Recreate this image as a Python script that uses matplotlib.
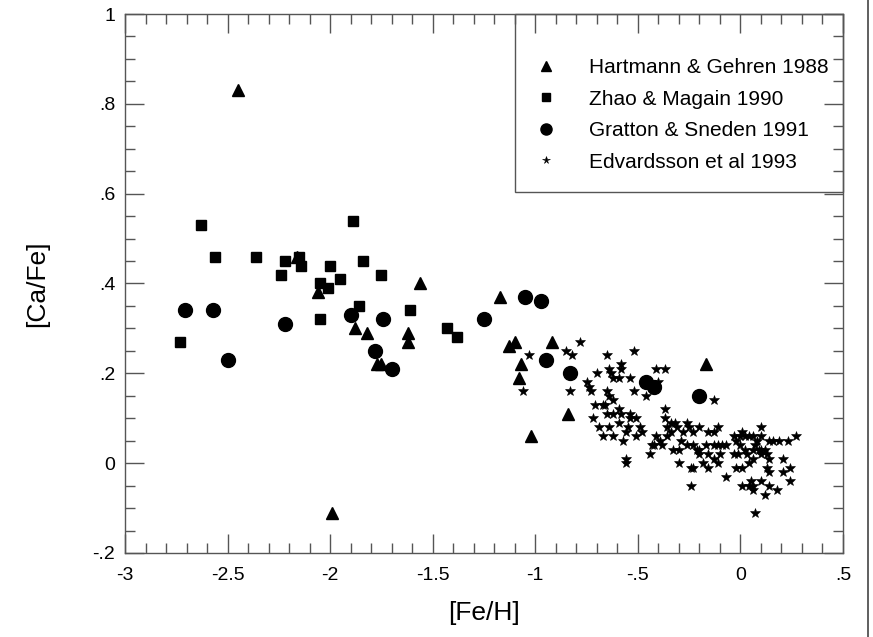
import numpy as np
import matplotlib
matplotlib.use("Agg")
import matplotlib.pyplot as plt
from matplotlib.ticker import MultipleLocator, FuncFormatter
from matplotlib.patches import Rectangle
from matplotlib.lines import Line2D

plt.rcParams["font.family"] = ["Liberation Sans", "DejaVu Sans"]

# Hartmann & Gehren 1988
hg_feh = [-2.45, -1.99, -2.16, -2.06, -1.88, -1.82, -1.77, -1.75, -1.56, -1.62, -1.62,
          -1.17, -1.13, -1.10, -0.92, -1.07, -1.08, -1.02, -0.84, -0.17]
hg_cafe = [0.83, -0.11, 0.46, 0.38, 0.30, 0.29, 0.22, 0.22, 0.40, 0.29, 0.27,
           0.37, 0.26, 0.27, 0.27, 0.22, 0.19, 0.06, 0.11, 0.22]

# Zhao & Magain 1990
zm_feh = [-2.73, -2.63, -2.56, -2.36, -2.22, -2.24, -2.15, -2.14, -2.00, -2.05, -2.01,
          -1.95, -1.89, -1.84, -1.75, -1.86, -2.05, -1.61, -1.43, -1.38]
zm_cafe = [0.27, 0.53, 0.46, 0.46, 0.45, 0.42, 0.46, 0.44, 0.44, 0.40, 0.39,
           0.41, 0.54, 0.45, 0.42, 0.35, 0.32, 0.34, 0.30, 0.28]

# Gratton & Sneden 1991
gs_feh = [-2.71, -2.57, -2.50, -2.22, -1.90, -1.74, -1.78, -1.70, -1.25, -1.05, -0.97,
          -0.95, -0.83, -0.46, -0.42, -0.20]
gs_cafe = [0.34, 0.34, 0.23, 0.31, 0.33, 0.32, 0.25, 0.21, 0.32, 0.37, 0.36,
           0.23, 0.20, 0.18, 0.17, 0.15]

# Edvardsson et al 1993
ed_feh = [-1.03, -1.06, -0.78, -0.85, -0.82, -0.65, -0.52, -0.70, -0.64, -0.63, -0.58,
          -0.58, -0.62, -0.59, -0.54, -0.41, -0.37, -0.75, -0.74, -0.73, -0.83, -0.65,
          -0.64, -0.52, -0.46, -0.40, -0.71, -0.67, -0.66, -0.62, -0.65, -0.62, -0.59,
          -0.58, -0.54, -0.72, -0.59, -0.54, -0.51, -0.37, -0.37, -0.69, -0.64, -0.55,
          -0.49, -0.67, -0.62, -0.57, -0.56, -0.51, -0.48, -0.41, -0.39, -0.36, -0.34,
          -0.34, -0.32, -0.31, -0.36, -0.38, -0.43, -0.42, -0.44, -0.33, -0.29, -0.28,
          -0.26, -0.25, -0.23, -0.20, -0.16, -0.13, -0.11, -0.30, -0.30, -0.26, -0.23,
          -0.21, -0.20, -0.17, -0.16, -0.13, -0.11, -0.09, -0.07, -0.24, -0.23, -0.20,
          -0.18, -0.16, -0.13, -0.11, -0.10, -0.24, -0.07, -0.03, 0.00, -0.02, 0.00,
          0.01, 0.02, 0.04, 0.06, 0.08, 0.10, 0.10, 0.14, 0.16, 0.19, 0.23, 0.27,
          -0.03, -0.01, -0.02, 0.01, 0.03, 0.04, 0.06, 0.07, 0.09, 0.10, 0.13, 0.14,
          0.13, 0.14, 0.21, 0.24, 0.21, 0.24, 0.02, 0.06, 0.10, 0.12, 0.01, 0.04,
          0.05, 0.06, 0.06, 0.10, 0.14, 0.18, 0.12, 0.07, -0.13, -0.56, -0.56]
ed_cafe = [0.24, 0.16, 0.27, 0.25, 0.24, 0.24, 0.25, 0.20, 0.21, 0.20, 0.22,
           0.21, 0.19, 0.19, 0.19, 0.21, 0.21, 0.18, 0.17, 0.16, 0.16, 0.16,
           0.15, 0.16, 0.15, 0.18, 0.13, 0.13, 0.13, 0.14, 0.11, 0.11, 0.12,
           0.11, 0.11, 0.10, 0.09, 0.10, 0.10, 0.12, 0.10, 0.08, 0.08, 0.08,
           0.08, 0.06, 0.06, 0.05, 0.07, 0.06, 0.07, 0.06, 0.05, 0.08, 0.07,
           0.09, 0.09, 0.08, 0.06, 0.04, 0.04, 0.04, 0.02, 0.03, 0.05, 0.07,
           0.09, 0.08, 0.07, 0.08, 0.07, 0.07, 0.08, 0.03, 0.00, 0.04, 0.04,
           0.03, 0.03, 0.04, 0.02, 0.04, 0.04, 0.04, 0.04, -0.01, -0.01, 0.02,
           0.00, -0.01, 0.01, 0.00, 0.02, -0.05, -0.03, 0.06, 0.06, 0.05, 0.04,
           0.07, 0.06, 0.06, 0.06, 0.05, 0.08, 0.06, 0.05, 0.05, 0.05, 0.05, 0.06,
           0.02, 0.02, -0.01, -0.01, 0.02, 0.00, 0.01, 0.04, 0.03, 0.02, 0.02, 0.01,
           -0.01, -0.02, 0.01, -0.01, -0.02, -0.04, 0.03, 0.03, 0.03, 0.03, -0.05, -0.05,
           -0.04, -0.05, -0.06, -0.04, -0.05, -0.06, -0.07, -0.11, 0.14, 0.01, 0.00]

labels = ["Hartmann & Gehren 1988", "Zhao & Magain 1990",
          "Gratton & Sneden 1991", "Edvardsson et al 1993"]

fig = plt.figure(figsize=(8.73, 6.37), dpi=100)
ax = fig.add_axes([0.1432, 0.1319, 0.8224, 0.8461])

ax.plot(hg_feh, hg_cafe, "^", color="black", ms=9, label=labels[0])
ax.plot(zm_feh, zm_cafe, "s", color="black", ms=7.5, label=labels[1])
ax.plot(gs_feh, gs_cafe, "o", color="black", ms=10, label=labels[2])
ax.plot(ed_feh, ed_cafe, "*", color="black", ms=7, mew=0.4, label=labels[3])

ax.set_xlim(-3, 0.5)
ax.set_ylim(-0.2, 1.0)

def short_num(v, pos):
    s = "%g" % round(v, 2)
    return s.replace("0.", ".")

ax.xaxis.set_major_locator(MultipleLocator(0.5))
ax.xaxis.set_minor_locator(MultipleLocator(0.1))
ax.yaxis.set_major_locator(MultipleLocator(0.2))
ax.yaxis.set_minor_locator(MultipleLocator(0.05))
ax.xaxis.set_major_formatter(FuncFormatter(short_num))
ax.yaxis.set_major_formatter(FuncFormatter(short_num))

edge = "#555555"
ax.tick_params(which="both", direction="in", top=True, right=True, color=edge, width=1)
ax.tick_params(which="major", length=14, labelsize=14)
ax.tick_params(axis="x", which="major", pad=10)
ax.tick_params(axis="y", which="major", pad=7)
ax.tick_params(which="minor", length=7)
for sp in ax.spines.values():
    sp.set_color(edge)
    sp.set_linewidth(1)

ax.set_xlabel("[Fe/H]", fontsize=19)
ax.set_ylabel("[Ca/Fe]", fontsize=19)
ax.xaxis.set_label_coords(0.5, -0.09)
ax.yaxis.set_label_coords(-0.106, 0.5)

# legend box drawn separately so it sits flush with the top-right corner
ax.add_patch(Rectangle((0.543, 0.670), 0.457, 0.330, transform=ax.transAxes,
                       fill=False, edgecolor=edge, lw=1, clip_on=False, zorder=3))
ax.legend(loc="center left", bbox_to_anchor=(0.557, 0.8126), frameon=False,
          fontsize=15, borderpad=0, handlelength=1.0, handletextpad=1.6,
          labelspacing=0.6, markerscale=0.8, numpoints=1)

# page border on the right
fig.add_artist(Line2D([0.9943, 0.9943], [0, 1], transform=fig.transFigure,
                      color="#444444", lw=1.2))

fig.savefig("out.png", dpi=100)
